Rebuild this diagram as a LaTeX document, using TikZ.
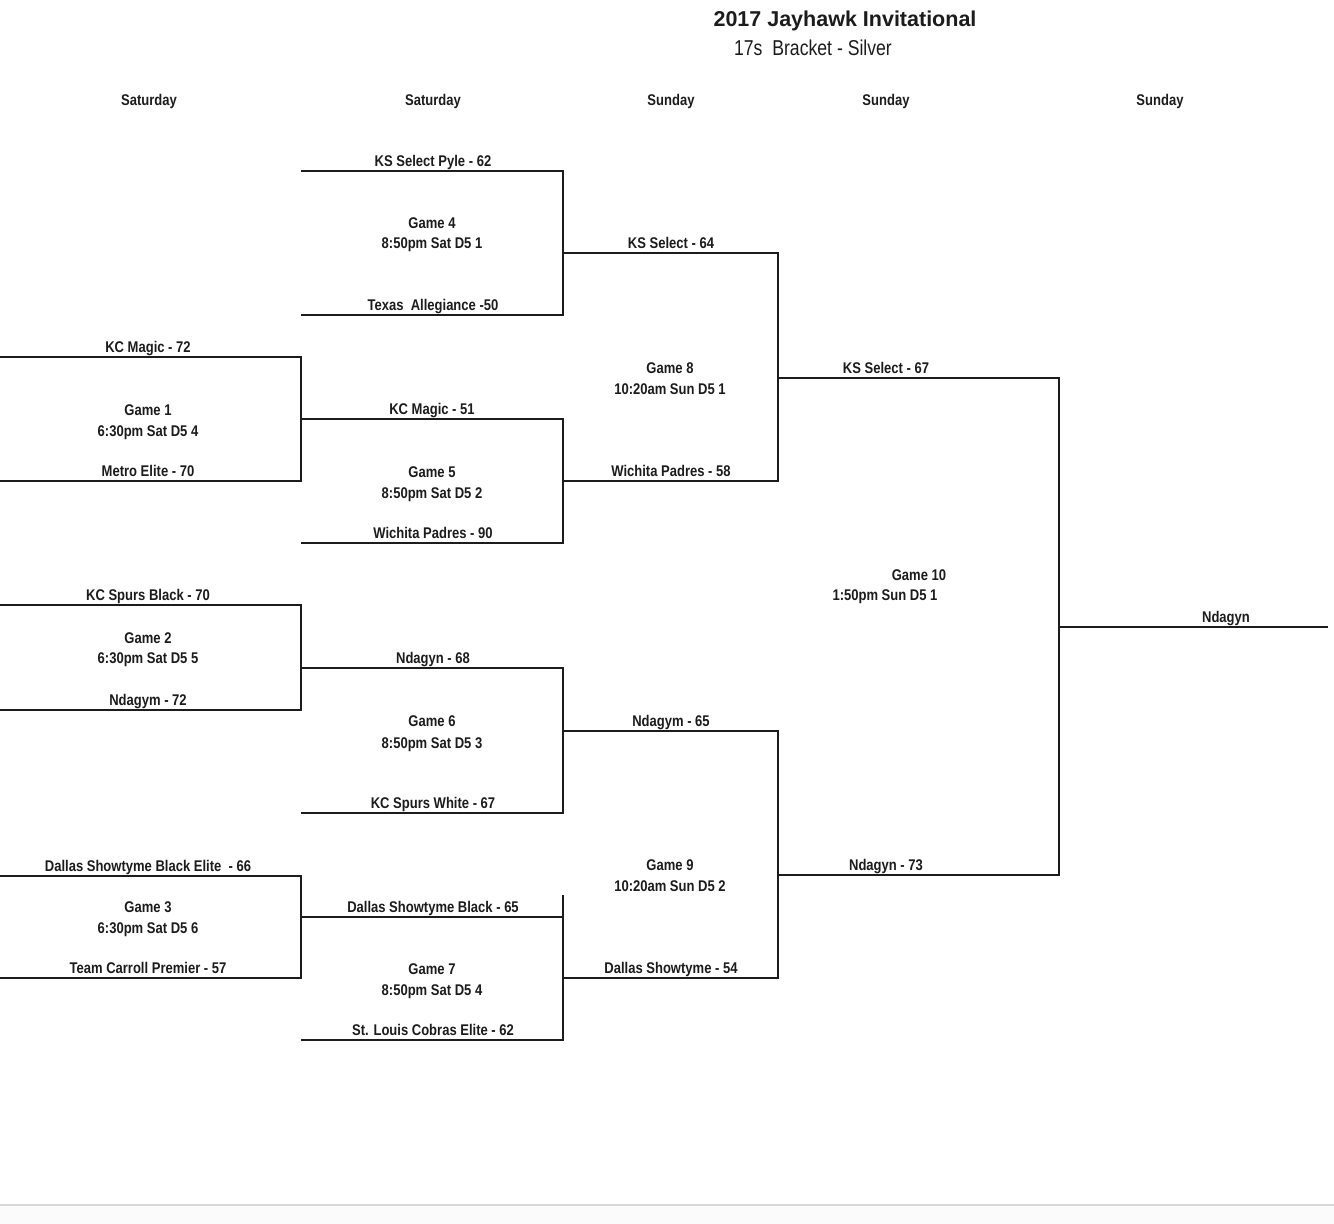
\documentclass[tikz,border=0pt]{standalone}
\usepackage{fontspec}
\setmainfont{Liberation Sans}
\newfontfamily\lblfont[FakeStretch=0.84]{Liberation Sans}
\newfontfamily\subfont[FakeStretch=0.82]{Liberation Sans}
\definecolor{ink}{HTML}{1C1C1C}
\definecolor{bandline}{HTML}{D9D9D9}
\definecolor{bandfill}{HTML}{FBFBFB}
\begin{document}
\begin{tikzpicture}[x=1pt,y=-1pt,
  wire/.style={line width=2.5pt,ink,line cap=rect},
  lbl/.style={font=\lblfont\bfseries\fontsize{15.5}{18}\selectfont,text=ink,anchor=base,inner sep=0pt},
  hdr/.style={lbl},
  gm/.style={lbl}]
\useasboundingbox (0,0) rectangle (1334,1224);
\fill[white] (0,0) rectangle (1334,1224);
\fill[bandfill] (0,1205) rectangle (1334,1224);
\draw[bandline,line width=2pt] (0,1204.5) -- (1334,1204.5);

% titles
\node[anchor=base,inner sep=0pt,font=\bfseries\fontsize{21.5}{24}\selectfont,text=ink] (title) at (845,26) {2017 Jayhawk Invitational};
\node[anchor=base,inner sep=0pt,font=\subfont\fontsize{21.5}{24}\selectfont,text=ink] (subtitle) at (813,55) {17s\ \ Bracket - Silver};

% headers
\node[hdr] (h1) at (149,105) {Saturday};
\node[hdr] (h2) at (433,105) {Saturday};
\node[hdr] (h3) at (671,105) {Sunday};
\node[hdr] (h4) at (886,105) {Sunday};
\node[hdr] (h5) at (1160,105) {Sunday};

% coordinates: round 1 slots
\coordinate (r1a0) at (0,357);   \coordinate (r1a1) at (301,357);
\coordinate (r1b0) at (0,481);   \coordinate (r1b1) at (301,481);
\coordinate (r1c0) at (0,605);   \coordinate (r1c1) at (301,605);
\coordinate (r1d0) at (0,710);   \coordinate (r1d1) at (301,710);
\coordinate (r1e0) at (0,876);   \coordinate (r1e1) at (301,876);
\coordinate (r1f0) at (0,978);   \coordinate (r1f1) at (301,978);
% round 2 slots
\coordinate (r2a0) at (302,171);  \coordinate (r2a1) at (563,171);
\coordinate (r2b0) at (302,315);  \coordinate (r2b1) at (563,315);
\coordinate (r2c0) at (301,419);  \coordinate (r2c1) at (563,419);
\coordinate (r2d0) at (302,543);  \coordinate (r2d1) at (563,543);
\coordinate (r2e0) at (301,668);  \coordinate (r2e1) at (563,668);
\coordinate (r2f0) at (302,813);  \coordinate (r2f1) at (563,813);
\coordinate (r2g0) at (301,917);  \coordinate (r2g1) at (563,917);
\coordinate (r2h0) at (302,1040); \coordinate (r2h1) at (563,1040);
\coordinate (r2gt) at (563,896);
% round 3 slots
\coordinate (r3a0) at (563,253);  \coordinate (r3a1) at (778,253);
\coordinate (r3b0) at (563,481);  \coordinate (r3b1) at (778,481);
\coordinate (r3c0) at (563,731);  \coordinate (r3c1) at (778,731);
\coordinate (r3d0) at (563,978);  \coordinate (r3d1) at (778,978);
% round 4 slots
\coordinate (r4a0) at (778,378);  \coordinate (r4a1) at (1059,378);
\coordinate (r4b0) at (778,875);  \coordinate (r4b1) at (1059,875);
% final
\coordinate (f0) at (1059,627);   \coordinate (f1) at (1327,627);

% horizontal slots
\foreach \s in {r1a,r1b,r1c,r1d,r1e,r1f,r2a,r2b,r2c,r2d,r2e,r2f,r2g,r2h,r3a,r3b,r3c,r3d,r4a,r4b}
  \draw[wire] (\s0) -- (\s1);
\draw[wire] (f0) -- (f1);

% verticals (games)
\draw[wire] (r1a1) -- (r1b1);  % game 1
\draw[wire] (r1c1) -- (r1d1);  % game 2
\draw[wire] (r1e1) -- (r1f1);  % game 3
\draw[wire] (r2a1) -- (r2b1);  % game 4
\draw[wire] (r2c1) -- (r2d1);  % game 5
\draw[wire] (r2e1) -- (r2f1);  % game 6
\draw[wire] (r2gt) -- (r2h1);  % game 7
\draw[wire] (r3a1) -- (r3b1);  % game 8
\draw[wire] (r3c1) -- (r3d1);  % game 9
\draw[wire] (r4a1) -- (r4b1);  % game 10

% team labels
\node[lbl] (t1) at (148,352) {KC Magic - 72};
\node[lbl] (t2) at (148,476) {Metro Elite - 70};
\node[lbl] (t3) at (148,600) {KC Spurs Black - 70};
\node[lbl] (t4) at (148,705) {Ndagym - 72};
\node[lbl] (t5) at (148,871) {Dallas Showtyme Black Elite\ \ - 66};
\node[lbl] (t6) at (148,973) {Team Carroll Premier - 57};

\node[lbl] (t7) at (433,166) {KS Select Pyle - 62};
\node[lbl] (t8) at (433,310) {Texas\ \ Allegiance -50};
\node[lbl] (t9) at (432,414) {KC Magic - 51};
\node[lbl] (t10) at (433,538) {Wichita Padres - 90};
\node[lbl] (t11) at (433,663) {Ndagyn - 68};
\node[lbl] (t12) at (433,808) {KC Spurs White - 67};
\node[lbl] (t13) at (433,912) {Dallas Showtyme Black - 65};
\node[lbl] (t14) at (433,1035) {St. Louis Cobras Elite - 62};

\node[lbl] (t15) at (671,248) {KS Select - 64};
\node[lbl] (t16) at (671,476) {Wichita Padres - 58};
\node[lbl] (t17) at (671,726) {Ndagym - 65};
\node[lbl] (t18) at (671,973) {Dallas Showtyme - 54};

\node[lbl] (t19) at (886,373) {KS Select - 67};
\node[lbl] (t20) at (886,870) {Ndagyn - 73};

\node[lbl] (t21) at (1226,622) {Ndagyn};

% game labels
\node[gm] (g1a) at (148,415) {Game 1};   \node[gm] (g1b) at (148,436) {6:30pm Sat D5 4};
\node[gm] (g2a) at (148,643) {Game 2};   \node[gm] (g2b) at (148,663) {6:30pm Sat D5 5};
\node[gm] (g3a) at (148,912) {Game 3};   \node[gm] (g3b) at (148,933) {6:30pm Sat D5 6};
\node[gm] (g4a) at (432,228) {Game 4};   \node[gm] (g4b) at (432,248) {8:50pm Sat D5 1};
\node[gm] (g5a) at (432,477) {Game 5};   \node[gm] (g5b) at (432,498) {8:50pm Sat D5 2};
\node[gm] (g6a) at (432,726) {Game 6};   \node[gm] (g6b) at (432,748) {8:50pm Sat D5 3};
\node[gm] (g7a) at (432,974) {Game 7};   \node[gm] (g7b) at (432,995) {8:50pm Sat D5 4};
\node[gm] (g8a) at (670,373) {Game 8};   \node[gm] (g8b) at (670,394) {10:20am Sun D5 1};
\node[gm] (g9a) at (670,870) {Game 9};   \node[gm] (g9b) at (670,891) {10:20am Sun D5 2};
\node[gm] (g10a) at (919,580) {Game 10}; \node[gm] (g10b) at (885,600) {1:50pm Sun D5 1};
\end{tikzpicture}
\end{document}
